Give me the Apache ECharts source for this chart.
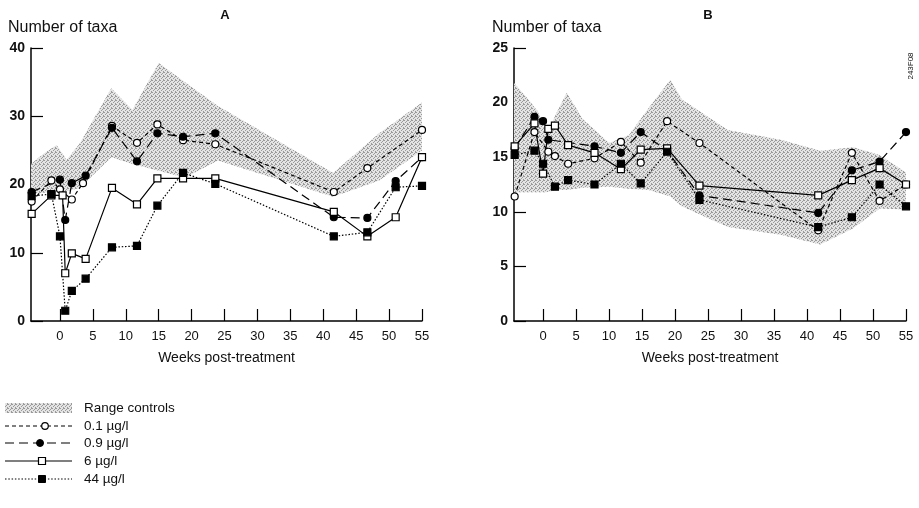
<!DOCTYPE html>
<html><head><meta charset="utf-8">
<script src="https://cdn.jsdelivr.net/npm/echarts@6/dist/echarts.min.js"></script>
<style>html,body{margin:0;padding:0;background:#fff}#c{width:919px;height:508px}</style>
</head><body><div id="c"></div>
<script>
// ---------- data ----------
const xTicks = [0, 5, 10, 15, 20, 25, 30, 35, 40, 45, 50, 55];

// Panel A
const A_w01 = [-4.3, -1.3, 0, 1.8, 3.5, 7.9, 11.7, 14.8, 18.7, 23.6, 41.6, 46.7, 55];
const A_v01 = [17.5, 20.6, 19.3, 17.8, 20.2, 28.6, 26.1, 28.8, 26.5, 25.9, 18.9, 22.4, 28.0];
const A_w09 = [-4.3, 0, 0.8, 1.8, 3.9, 7.9, 11.7, 14.8, 18.7, 23.6, 41.6, 46.7, 51, 55];
const A_v09 = [18.9, 20.7, 14.8, 20.2, 21.3, 28.3, 23.4, 27.5, 27.0, 27.5, 15.2, 15.1, 20.5, 24.0];
const A_w6 = [-4.3, -1.3, 0.4, 0.8, 1.8, 3.9, 7.9, 11.7, 14.8, 18.7, 23.6, 41.6, 46.7, 51, 55];
const A_v6 = [15.7, 18.4, 18.4, 7.0, 9.9, 9.1, 19.5, 17.1, 20.9, 20.9, 20.9, 16.0, 12.4, 15.2, 24.0];
const A_w44 = [-4.3, -1.3, 0, 0.8, 1.8, 3.9, 7.9, 11.7, 14.8, 18.7, 23.6, 41.6, 46.7, 51, 55];
const A_v44 = [18.3, 18.6, 12.4, 1.5, 4.4, 6.2, 10.8, 11.0, 16.9, 21.7, 20.1, 12.4, 13.0, 19.6, 19.8];
const A_bandW = [-4.4, -2.5, -0.5, 1, 3, 7.8, 11, 15, 19, 24, 41.5, 48.5, 55];
const A_bandHi = [23, 24.5, 25.8, 23.6, 26, 34.1, 30.9, 37.8, 35, 31.5, 21.7, 27.5, 32];
const A_bandLo = [18.5, 18.8, 19, 19, 19.5, 24, 23, 22, 21, 23.5, 18.2, 20.6, 25];

// Panel B
const B_w01 = [-4.3, -1.3, 0.8, 1.8, 3.8, 7.8, 11.8, 14.8, 18.8, 23.7, 41.7, 46.8, 51, 55];
const B_v01 = [11.4, 17.3, 15.5, 15.1, 14.4, 14.9, 16.4, 14.5, 18.3, 16.3, 8.3, 15.4, 11.0, 12.5];
const B_w09 = [-4.3, -1.3, 0, 0.8, 7.8, 11.8, 14.8, 18.8, 23.7, 41.7, 46.8, 51, 55];
const B_v09 = [15.8, 18.7, 18.3, 16.6, 16.0, 15.4, 17.3, 15.6, 11.5, 9.9, 13.8, 14.6, 17.3];
const B_w6 = [-4.3, -1.3, 0, 0.8, 1.8, 3.8, 7.8, 11.8, 14.8, 18.8, 23.7, 41.7, 46.8, 51, 55];
const B_v6 = [16.0, 18.1, 13.5, 17.6, 17.9, 16.1, 15.4, 13.9, 15.7, 15.8, 12.4, 11.5, 12.9, 14.0, 12.5];
const B_w44 = [-4.3, -1.3, 0, 1.8, 3.8, 7.8, 11.8, 14.8, 18.8, 23.7, 41.7, 46.8, 51, 55];
const B_v44 = [15.2, 15.6, 14.4, 12.3, 12.9, 12.5, 14.4, 12.6, 15.5, 11.1, 8.6, 9.5, 12.5, 10.5];
const B_bandW = [-4.4, -2.5, -0.8, 0.5, 2, 3.6, 6, 10, 13, 16, 19.3, 21, 28, 36, 42, 47, 51, 55];
const B_bandHi = [21.8, 20.5, 19.2, 17, 19, 20.9, 18.5, 16.3, 17, 19.5, 22.1, 20.3, 17.5, 16.6, 15.6, 15.9, 15.2, 13.6];
const B_bandLo = [11.8, 11.8, 11.8, 11.8, 12, 12, 12.2, 12.3, 12.1, 12, 11.4, 10.5, 8.6, 7.9, 7.0, 8.5, 10.3, 10.2];

const seriesNames = ['0.1 µg/l', '0.9 µg/l', '6 µg/l', '44 µg/l'];

// ---------- style ----------
const FONT = 'Liberation Sans, Arial, Helvetica, sans-serif';
const pc = document.createElement('canvas'); pc.width = 4; pc.height = 4;
const g = pc.getContext('2d');
g.fillStyle = '#e4e4e4'; g.fillRect(0, 0, 4, 4);
g.fillStyle = '#9a9a9a';
[[0,0],[2,1],[1,2],[3,3],[3,0]].forEach(p => g.fillRect(p[0], p[1], 1, 1));
const pattern = { image: pc, repeat: 'repeat' };

const DASH = { '0.1': [4, 3], '0.9': [9, 5], '6': 'solid', '44': [1.5, 1.8] };

function line(name, idx, weeks, vals, sym, filled, dash) {
  return {
    name, type: 'line', xAxisIndex: idx, yAxisIndex: idx, z: 3,
    data: weeks.map((w, i) => [w, vals[i]]),
    symbol: sym, symbolSize: 7, showSymbol: true, animation: false,
    lineStyle: { color: '#000', width: 1.2, type: dash },
    itemStyle: { color: filled ? '#000' : '#fff', borderColor: '#000', borderWidth: 1.2 }
  };
}
function band(idx, weeks, hi, lo) {
  return {
    type: 'custom', xAxisIndex: idx, yAxisIndex: idx, z: 1, silent: true, animation: false,
    data: [[weeks[0], hi[0]]],
    renderItem: function (params, api) {
      const pts = [];
      for (let i = 0; i < weeks.length; i++) pts.push(api.coord([weeks[i], hi[i]]));
      for (let i = weeks.length - 1; i >= 0; i--) pts.push(api.coord([weeks[i], lo[i]]));
      return { type: 'polygon', shape: { points: pts }, style: { fill: pattern, stroke: null } };
    }
  };
}
function xAx(idx) {
  return {
    gridIndex: idx, type: 'value', min: -4.4, max: 55,
    axisLine: { show: true, onZero: false, lineStyle: { color: '#000', width: 1.5 } },
    axisTick: { show: true, inside: true, length: 12, customValues: xTicks, lineStyle: { color: '#000', width: 1.2 } },
    axisLabel: { customValues: xTicks, color: '#111', fontSize: 13, margin: 9, fontFamily: FONT },
    splitLine: { show: false },
    name: 'Weeks post-treatment', nameLocation: 'middle', nameGap: 30,
    nameTextStyle: { color: '#111', fontSize: 14, fontFamily: FONT }
  };
}
function yAx(idx, max, interval) {
  return {
    gridIndex: idx, type: 'value', min: 0, max: max, interval: interval,
    axisLine: { show: true, onZero: false, lineStyle: { color: '#000', width: 1.5 } },
    axisTick: { show: true, inside: true, length: 12, lineStyle: { color: '#000', width: 1.2 } },
    axisLabel: { color: '#111', fontSize: 14, margin: 6, fontFamily: FONT, fontWeight: 'bold' },
    splitLine: { show: false }
  };
}

// legend graphics
const legY = [408, 426, 443, 461, 479];
const legend = [
  { type: 'rect', shape: { x: 5, y: 403, width: 67, height: 10 }, style: { fill: pattern } },
  { type: 'line', shape: { x1: 5, y1: legY[1], x2: 72, y2: legY[1] }, style: { stroke: '#000', lineWidth: 1, lineDash: DASH['0.1'] } },
  { type: 'circle', shape: { cx: 45, cy: legY[1], r: 3.3 }, style: { fill: '#fff', stroke: '#000', lineWidth: 1.2 } },
  { type: 'line', shape: { x1: 5, y1: legY[2], x2: 72, y2: legY[2] }, style: { stroke: '#000', lineWidth: 1.2, lineDash: DASH['0.9'] } },
  { type: 'circle', shape: { cx: 40, cy: legY[2], r: 3.5 }, style: { fill: '#000', stroke: '#000', lineWidth: 1 } },
  { type: 'line', shape: { x1: 5, y1: legY[3], x2: 72, y2: legY[3] }, style: { stroke: '#000', lineWidth: 1.2 } },
  { type: 'rect', shape: { x: 38.5, y: legY[3] - 3.5, width: 7, height: 7 }, style: { fill: '#fff', stroke: '#000', lineWidth: 1.2 } },
  { type: 'line', shape: { x1: 5, y1: legY[4], x2: 72, y2: legY[4] }, style: { stroke: '#000', lineWidth: 1, lineDash: DASH['44'] } },
  { type: 'rect', shape: { x: 38.5, y: legY[4] - 3.5, width: 7, height: 7 }, style: { fill: '#000', stroke: '#000', lineWidth: 1 } }
];
['Range controls'].concat(seriesNames).forEach((t, i) => {
  legend.push({ type: 'text', x: 84, y: legY[i], style: { text: t, fontSize: 13.5, fontFamily: FONT, fill: '#111', verticalAlign: 'middle' } });
});

const texts = [
  { type: 'text', x: 8, y: 28, style: { text: 'Number of taxa', fontSize: 16, fontFamily: FONT, fill: '#111', verticalAlign: 'middle' } },
  { type: 'text', x: 492, y: 28, style: { text: 'Number of taxa', fontSize: 16, fontFamily: FONT, fill: '#111', verticalAlign: 'middle' } },
  { type: 'text', x: 225, y: 15, style: { text: 'A', fontSize: 13, fontWeight: 'bold', fontFamily: FONT, fill: '#111', align: 'center', verticalAlign: 'middle' } },
  { type: 'text', x: 708, y: 15, style: { text: 'B', fontSize: 13, fontWeight: 'bold', fontFamily: FONT, fill: '#111', align: 'center', verticalAlign: 'middle' } },
  { type: 'text', x: 911, y: 66, rotation: Math.PI / 2, style: { text: '243F08', fontSize: 8, fontFamily: FONT, fill: '#111', align: 'center', verticalAlign: 'middle' } }
];

const chart = echarts.init(document.getElementById('c'), null, { renderer: 'canvas' });
chart.setOption({
  animation: false,
  backgroundColor: '#fff',
  grid: [
    { left: 31, top: 48, width: 391, height: 273 },
    { left: 514, top: 48, width: 392, height: 273 }
  ],
  xAxis: [xAx(0), xAx(1)],
  yAxis: [yAx(0, 40, 10), yAx(1, 25, 5)],
  series: [
    band(0, A_bandW, A_bandHi, A_bandLo),
    band(1, B_bandW, B_bandHi, B_bandLo),
    line(seriesNames[0], 0, A_w01, A_v01, 'circle', false, DASH['0.1']),
    line(seriesNames[1], 0, A_w09, A_v09, 'circle', true, DASH['0.9']),
    line(seriesNames[2], 0, A_w6, A_v6, 'rect', false, DASH['6']),
    line(seriesNames[3], 0, A_w44, A_v44, 'rect', true, DASH['44']),
    line(seriesNames[0], 1, B_w01, B_v01, 'circle', false, DASH['0.1']),
    line(seriesNames[1], 1, B_w09, B_v09, 'circle', true, DASH['0.9']),
    line(seriesNames[2], 1, B_w6, B_v6, 'rect', false, DASH['6']),
    line(seriesNames[3], 1, B_w44, B_v44, 'rect', true, DASH['44'])
  ],
  graphic: legend.concat(texts)
});
</script></body></html>
